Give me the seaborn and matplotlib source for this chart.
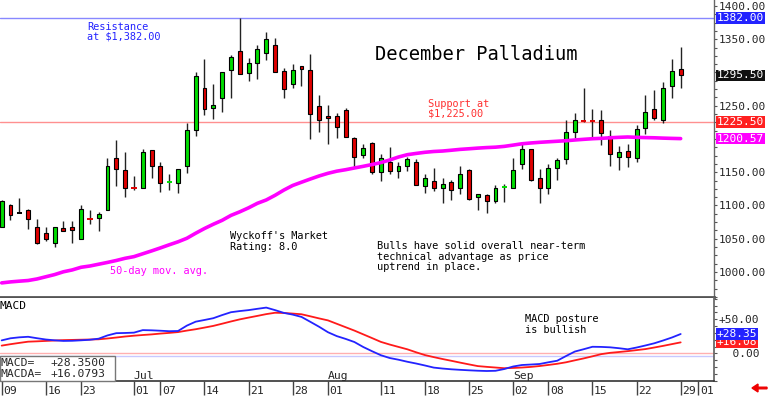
import numpy as np
import pandas as pd
import matplotlib
matplotlib.use('Agg')
import matplotlib.pyplot as plt
import matplotlib.transforms as mtransforms
from matplotlib.ticker import MultipleLocator, FixedLocator
import seaborn as sns

# ============================================================
# data (one value per trading day, Jun 09 .. Sep 29)
# ============================================================
opens = [1068, 1100, 1088, 1093, 1067, 1059, 1043, 1066, 1068, 1050,
         1082, 1081, 1093, 1172, 1153, 1129, 1126, 1183, 1160, 1134,
         1134, 1159, 1213, 1276, 1247, 1262, 1304, 1333, 1299, 1314,
         1329, 1341, 1302, 1282, 1310, 1303, 1250, 1235, 1234, 1244,
         1202, 1176, 1194, 1150, 1166, 1152, 1160, 1166, 1130, 1137,
         1126, 1135, 1126, 1153, 1113, 1116, 1107, 1126, 1126, 1163,
         1185, 1141, 1126, 1157, 1170, 1210, 1228.5, 1228.5, 1228, 1204,
         1173, 1182, 1171, 1217, 1245, 1228, 1280, 1305]
highs = [1108, 1102, 1111, 1094, 1080, 1067, 1067, 1076, 1077, 1100,
         1093, 1090, 1172, 1198, 1180, 1144, 1185, 1184, 1166, 1147,
         1155, 1224, 1300, 1321, 1283, 1301, 1326, 1382, 1322, 1341,
         1361, 1352, 1307, 1313, 1310, 1328, 1266, 1251, 1239, 1246,
         1203, 1192, 1195, 1178, 1188, 1165, 1173, 1170, 1148, 1156,
         1142, 1138, 1159, 1155, 1117, 1118, 1131, 1133, 1172, 1194,
         1185, 1155, 1163, 1171, 1229, 1239, 1276, 1245, 1244, 1213,
         1190, 1192, 1221, 1266, 1274, 1286, 1320, 1338]
lows = [1067, 1078, 1088, 1064, 1042, 1046, 1038, 1061, 1044, 1049,
        1072, 1062, 1093, 1130, 1113, 1124, 1126, 1142, 1121, 1123,
        1119, 1149, 1205, 1236, 1230, 1241, 1262, 1297, 1287, 1290,
        1319, 1300, 1261, 1276, 1279, 1200, 1210, 1193, 1201, 1203,
        1158, 1171, 1148, 1137, 1148, 1142, 1152, 1131, 1119, 1122,
        1103, 1108, 1118, 1108, 1093, 1089, 1103, 1106, 1126, 1155,
        1137, 1104, 1117, 1139, 1163, 1201, 1226, 1200, 1191, 1160,
        1153, 1158, 1166, 1207, 1228, 1224, 1262, 1276]
closes = [1107, 1086, 1088, 1079, 1043, 1049, 1067, 1061, 1063, 1094,
          1080, 1087, 1159, 1155, 1126, 1127, 1180, 1160, 1134, 1136,
          1155, 1213, 1294, 1245, 1251, 1300, 1324, 1297, 1314, 1335,
          1350, 1300, 1275, 1303, 1305, 1238, 1229, 1231, 1218, 1203,
          1173, 1187, 1151, 1172, 1152, 1160, 1170, 1131, 1141, 1126,
          1133, 1123, 1147, 1110, 1117, 1107, 1127, 1128, 1154, 1185,
          1139, 1127, 1156, 1168, 1211, 1228, 1226.5, 1226.5, 1209, 1177,
          1181, 1173, 1215, 1241, 1232, 1277, 1302, 1295.5]

ma50 = [983.6, 985.1, 986.2, 987.2, 989.5, 992.8, 996.1, 1000.3, 1003.1, 1007.1,
        1009.0, 1011.7, 1014.4, 1017.3, 1020.6, 1023.1, 1027.4, 1031.7, 1036.2, 1040.9,
        1045.4, 1050.7, 1058.3, 1065.4, 1071.8, 1077.7, 1085.1, 1090.5, 1096.5, 1103.3,
        1108.3, 1115.3, 1123.2, 1130.1, 1135.0, 1139.8, 1144.4, 1148.4, 1151.6, 1153.8,
        1156.4, 1158.9, 1161.6, 1164.5, 1168.4, 1172.9, 1176.4, 1178.3, 1180.0, 1181.2,
        1181.9, 1183.1, 1184.4, 1185.3, 1186.3, 1187.1, 1187.7, 1188.9, 1190.8, 1192.8,
        1194.0, 1195.0, 1195.8, 1196.6, 1197.4, 1198.5, 1199.5, 1200.4, 1201.0, 1201.8,
        1202.5, 1203.0, 1202.5, 1202.1, 1201.8, 1201.3, 1200.9, 1200.57]

macd = [19.0, 22.1, 23.5, 24.3, 22.2, 20.3, 19.1, 18.2, 18.4, 19.1,
        19.9, 21.5, 26.3, 29.6, 29.9, 30.4, 34.1, 33.8, 33.2, 32.5,
        32.8, 40.7, 46.5, 49.0, 51.6, 56.2, 60.4, 62.1, 63.5, 65.4,
        67.2, 63.5, 59.4, 56.9, 53.5, 46.3, 39.0, 31.0, 25.3, 21.2,
        16.6, 9.3, 3.1, -2.8, -6.9, -9.4, -12.4, -15.0, -17.9, -21.0,
        -22.4, -23.5, -24.3, -25.0, -25.6, -26.0, -25.7, -23.1, -19.4, -17.2,
        -16.5, -15.7, -13.2, -10.9, -4.0, 2.6, 6.0, 9.6, 9.4, 8.8,
        7.5, 5.9, 8.5, 11.5, 14.7, 18.8, 23.2, 28.35]
macd_avg = [11.3, 13.4, 15.3, 17.1, 17.6, 18.2, 18.8, 19.4, 19.7, 20.0,
            20.3, 20.6, 21.8, 23.2, 24.7, 25.9, 26.9, 27.8, 29.0, 30.0,
            31.2, 33.4, 35.4, 37.8, 40.3, 43.5, 46.8, 49.9, 52.5, 55.0,
            57.6, 59.6, 59.3, 58.4, 57.4, 54.4, 51.3, 48.4, 43.4, 38.4,
            33.4, 27.9, 22.4, 16.8, 12.9, 9.4, 5.9, 1.5, -2.6, -5.6,
            -8.4, -11.0, -13.7, -16.3, -18.8, -19.9, -20.9, -21.9, -21.5, -20.9,
            -20.0, -18.7, -17.1, -15.4, -13.2, -10.3, -7.5, -4.4, -1.2, 0.7,
            1.9, 3.2, 4.7, 6.2, 8.5, 10.9, 13.5, 16.08]

# date axis: trading-day index of each label
date_ticks = [0, 5, 9, 15, 18, 23, 28, 33, 37, 43, 48, 53, 58, 62, 67, 72, 77, 79]
date_labels = ['09', '16', '23', '01', '07', '14', '21', '28', '01', '11',
               '18', '25', '02', '08', '15', '22', '29', '01']
month_ticks = [15, 37, 58]
month_labels = ['Jul', 'Aug', 'Sep']

# 1200 and 1300 sit under the price tags, so no text there
price_ticks = [1000, 1050, 1100, 1150, 1200, 1250, 1300, 1350, 1400]
price_tick_labels = ['1000.00', '1050.00', '1100.00', '1150.00', '',
                     '1250.00', '', '1350.00', '1400.00']
macd_ticks = [0, 50]
macd_tick_labels = ['  0.00', '+50.00']
resistance = 1382.00
support = 1225.00
support_tag = 1225.50
macd_last = 28.35
macd_avg_last = 16.08
macd_readout = 28.3500
macd_avg_readout = 16.0793

# ============================================================
# style
# ============================================================
sns.set_theme(style='white')
plt.rcParams['font.family'] = ['DejaVu Sans Mono', 'DejaVu Sans']

W, H = 768, 396
GREEN = '#00dd00'
RED = '#e00000'
BLUE = '#2323ff'
MAGENTA = '#ff00ff'
SMALL = 7.4
SCALE = 8.0


def fx(px):
    return px / W


def fy(py):
    return 1 - py / H


df = pd.DataFrame({'day': np.arange(len(opens)), 'open': opens, 'high': highs,
                   'low': lows, 'close': closes, 'ma50': ma50,
                   'macd': macd, 'macd_avg': macd_avg})

fig = plt.figure(figsize=(W / 100, H / 100), dpi=100)
fig.patch.set_facecolor('white')
right = fx(714)
ax = fig.add_axes([0, fy(297), right, 297 / H])
ax2 = fig.add_axes([0, fy(381), right, (381 - 298) / H])
ax3 = fig.add_axes([0, 0, right, 15 / H])

xlim = (-0.19, 80.78)

# ---------------- price panel ----------------
ax.axhline(resistance, color='#8888ff', lw=1.0, zorder=1)
ax.axhline(support, color='#ff9090', lw=1.0, zorder=1)

ax.vlines(df['day'], df['low'], df['high'], color='#222222', lw=1.0, zorder=2)
body = (df['close'] - df['open']).abs()
big = df[body > 2.5]
cols = np.where(big['close'] > big['open'], GREEN, RED)
ax.bar(big['day'], (big['close'] - big['open']).abs(),
       bottom=big[['open', 'close']].min(axis=1), width=0.45,
       color=cols, edgecolor='black', linewidth=0.8, zorder=3)
doji = df[body <= 2.5]
dcols = ['black' if c == o else (GREEN if c > o else RED)
         for o, c in zip(doji['open'], doji['close'])]
ax.hlines(doji['close'], doji['day'] - 0.3, doji['day'] + 0.3,
          colors=dcols, lw=1.4, zorder=3)

sns.lineplot(data=df, x='day', y='ma50', ax=ax, color=MAGENTA, lw=2.6, zorder=4)

ax.set_xlim(*xlim)
ax.set_ylim(962.4, 1409.0)
ax.set_xticks([])
ax.set_xlabel('')
ax.set_ylabel('')
ax.yaxis.tick_right()
ax.yaxis.set_major_locator(FixedLocator(price_ticks))
ax.set_yticklabels(price_tick_labels)
ax.yaxis.set_minor_locator(MultipleLocator(12.5))
ax.tick_params(axis='y', which='both', direction='out', right=True, left=False,
               length=2, width=0.8, color='#555555', pad=1.5, labelsize=SCALE)
for s in ['top', 'left']:
    ax.spines[s].set_visible(False)
ax.spines['right'].set_color('#666666')
ax.spines['right'].set_linewidth(1.0)
ax.spines['bottom'].set_color('#555555')
ax.spines['bottom'].set_linewidth(2.0)

# price tags on the right scale
tr = mtransforms.blended_transform_factory(fig.transFigure, ax.transData)
for val, txt, fc in [(resistance, '1382.00', BLUE), (closes[-1], '1295.50', '#111111'),
                     (support_tag, '1225.50', '#ff2020'), (ma50[-1], '1200.57', MAGENTA)]:
    ax.text(fx(717), val, txt, transform=tr, ha='left', va='center', fontsize=SCALE,
            color='white', clip_on=False, zorder=6,
            bbox=dict(boxstyle='square,pad=0.08', fc=fc, ec='none'))


# annotations
def label(px, py, s, color='black', size=SMALL):
    fig.text(fx(px), fy(py), s, ha='left', va='baseline', color=color, fontsize=size)


label(87, 29.5, 'Resistance', BLUE)
label(87, 39.5, 'at $1,382.00', BLUE)
label(375, 59.5, 'December Palladium', 'black', 13.5)
label(428, 107, 'Support at', '#ff3030')
label(428, 116.5, '$1,225.00', '#ff3030')
label(230, 239, "Wyckoff's Market")
label(230, 250, 'Rating: 8.0')
label(377, 249, 'Bulls have solid overall near-term')
label(377, 259.5, 'technical advantage as price')
label(377, 269.5, 'uptrend in place.')
label(110, 274.5, '50-day mov. avg.', MAGENTA)

# ---------------- MACD panel ----------------
ax2.axhline(1.0, color='#ffb0b0', lw=1.0, zorder=1)
ax2.axhline(-3.5, color='#c8c8ff', lw=1.0, zorder=1)
sns.lineplot(data=df, x='day', y='macd_avg', ax=ax2, color='#ff1a1a', lw=1.3, zorder=3)
sns.lineplot(data=df, x='day', y='macd', ax=ax2, color=BLUE, lw=1.3, zorder=3)
ax2.set_xlim(*xlim)
ax2.set_ylim(-40.7, 81.3)
ax2.set_xticks([])
ax2.set_xlabel('')
ax2.set_ylabel('')
ax2.yaxis.tick_right()
ax2.yaxis.set_major_locator(FixedLocator(macd_ticks))
ax2.set_yticklabels(macd_tick_labels)
ax2.yaxis.set_minor_locator(MultipleLocator(10))
ax2.tick_params(axis='y', which='both', direction='out', right=True, left=False,
                length=2, width=0.8, color='#555555', pad=1.5, labelsize=SCALE)
for s in ['top', 'left']:
    ax2.spines[s].set_visible(False)
ax2.spines['right'].set_color('#666666')
ax2.spines['bottom'].set_color('#333333')
ax2.spines['bottom'].set_linewidth(1.2)

tr2 = mtransforms.blended_transform_factory(fig.transFigure, ax2.transData)
ax2.text(fx(717), macd_avg_last, f'+{macd_avg_last:.2f}', transform=tr2, ha='left',
         va='center', fontsize=SCALE, color='white', clip_on=False, zorder=5,
         bbox=dict(boxstyle='square,pad=0.05', fc='#ff2020', ec='none'))
ax2.text(fx(717), macd_last, f'+{macd_last:.2f}', transform=tr2, ha='left',
         va='center', fontsize=SCALE, color='white', clip_on=False, zorder=6,
         bbox=dict(boxstyle='square,pad=0.05', fc=BLUE, ec='none'))

label(0, 309, 'MACD', 'black', 8.0)
label(525, 322.5, 'MACD posture')
label(525, 333, 'is bullish')

# readout box in the lower left
box = plt.Rectangle((fx(0), fy(381)), fx(115), 25.3 / H, transform=fig.transFigure,
                    fc='white', ec='#777777', lw=1.0, zorder=10)
fig.patches.append(box)
for py, name, val in [(366, 'MACD=', macd_readout), (377.3, 'MACDA=', macd_avg_readout)]:
    fig.text(fx(0.5), fy(py), name, fontsize=8.2, va='baseline', zorder=11)
    fig.text(fx(50), fy(py), f'+{val:.4f}', fontsize=8.2, va='baseline', zorder=11)

trm = mtransforms.blended_transform_factory(ax2.transData, fig.transFigure)
for d, m in zip(month_ticks, month_labels):
    ax2.text(d, fy(379), m, transform=trm, ha='left', va='baseline', fontsize=8.2)

# ---------------- date strip ----------------
ax3.set_xlim(*xlim)
ax3.set_ylim(0, 1)
ax3.axis('off')
ax3.vlines(date_ticks, 0.05, 1.0, color='#444444', lw=1.0)
for d, s in zip(date_ticks, date_labels):
    ax3.text(d + 0.17, 0.14, s, ha='left', va='baseline', fontsize=8.2)

fig.patches.append(matplotlib.patches.FancyArrow(
    fx(767), fy(388), -fx(9), 0, width=0.004, head_width=0.02, head_length=fx(6),
    transform=fig.transFigure, color='#ee0000'))

fig.savefig('out.png', dpi=100, facecolor='white')
